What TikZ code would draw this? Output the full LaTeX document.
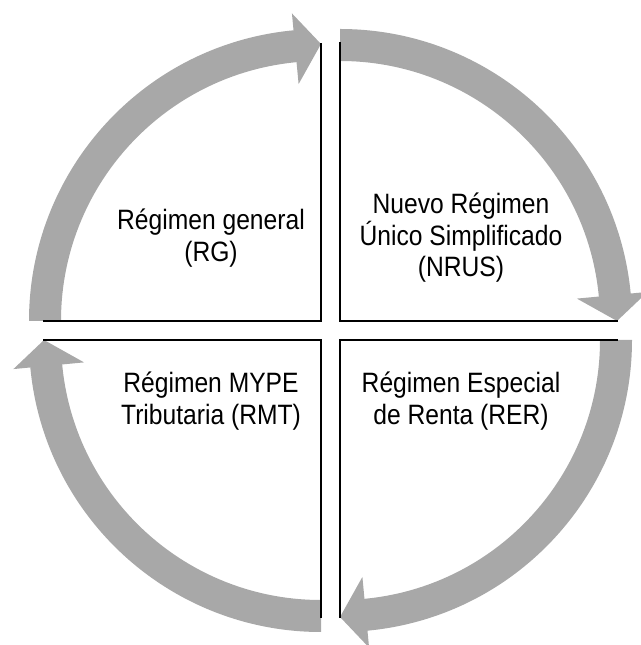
\documentclass[tikz,border=0pt]{standalone}
\usepackage{fontspec}
\setmainfont{Liberation Sans}[FakeStretch=0.88]
\definecolor{arrowgray}{RGB}{168,168,168}
\begin{document}
\begin{tikzpicture}[x=1pt,y=1pt,
  cyc/.style={fill=arrowgray, draw=none},
  divider/.style={draw=black, line width=2pt, line join=miter},
  lbl/.style={align=center, inner sep=0pt, font=\fontsize{28}{31.5}\selectfont}]
\useasboundingbox (0,0) rectangle (640,645);
\def\Ro{292}\def\Ri{260}\def\Rho{309}\def\Rhi{238}\def\Rt{277}
\coordinate (tl) at (321,324);
\coordinate (tr) at (340,324);
\coordinate (br) at (340,305);
\coordinate (bl) at (321,305);
% arrows
\fill[cyc, shift={(tl)}] (180:\Ro) arc[start angle=180, end angle=95.4, radius=\Ro]
  -- (95.4:\Rho) -- (90:\Rt) -- (95.4:\Rhi) -- (95.4:\Ri)
  arc[start angle=95.4, end angle=180, radius=\Ri] -- cycle;
\fill[cyc, shift={(tr)}] (90:\Ro) arc[start angle=90, end angle=5.4, radius=\Ro]
  -- (5.4:\Rho) -- (0:\Rt) -- (5.4:\Rhi) -- (5.4:\Ri)
  arc[start angle=5.4, end angle=90, radius=\Ri] -- cycle;
\fill[cyc, shift={(br)}] (0:\Ro) arc[start angle=0, end angle=-84.6, radius=\Ro]
  -- (-84.6:\Rho) -- (-90:\Rt) -- (-84.6:\Rhi) -- (-84.6:\Ri)
  arc[start angle=-84.6, end angle=0, radius=\Ri] -- cycle;
\fill[cyc, shift={(bl)}] (-90:\Ro) arc[start angle=-90, end angle=-174.6, radius=\Ro]
  -- (-174.6:\Rho) -- (-180:\Rt) -- (-174.6:\Rhi) -- (-174.6:\Ri)
  arc[start angle=-174.6, end angle=-90, radius=\Ri] -- cycle;
% dividers
\draw[divider] ([xshift=-278pt]tl) -- (tl) -- ([yshift=278pt]tl);
\draw[divider] ([yshift=279pt]tr) -- (tr) -- ([xshift=278pt]tr);
\draw[divider] ([xshift=278pt]br) -- (br) -- ([yshift=-278pt]br);
\draw[divider] ([yshift=-278pt]bl) -- (bl) -- ([xshift=-278pt]bl);
% labels
\node[lbl] (rg) at (211,407) {Régimen general\\(RG)};
\node[lbl] (nrus) at (461,407) {Nuevo Régimen\\Único Simplificado\\(NRUS)};
\node[lbl] (rer) at (461,244) {Régimen Especial\\de Renta (RER)};
\node[lbl] (rmt) at (211,244) {Régimen MYPE\\Tributaria (RMT)};
\end{tikzpicture}
\end{document}
